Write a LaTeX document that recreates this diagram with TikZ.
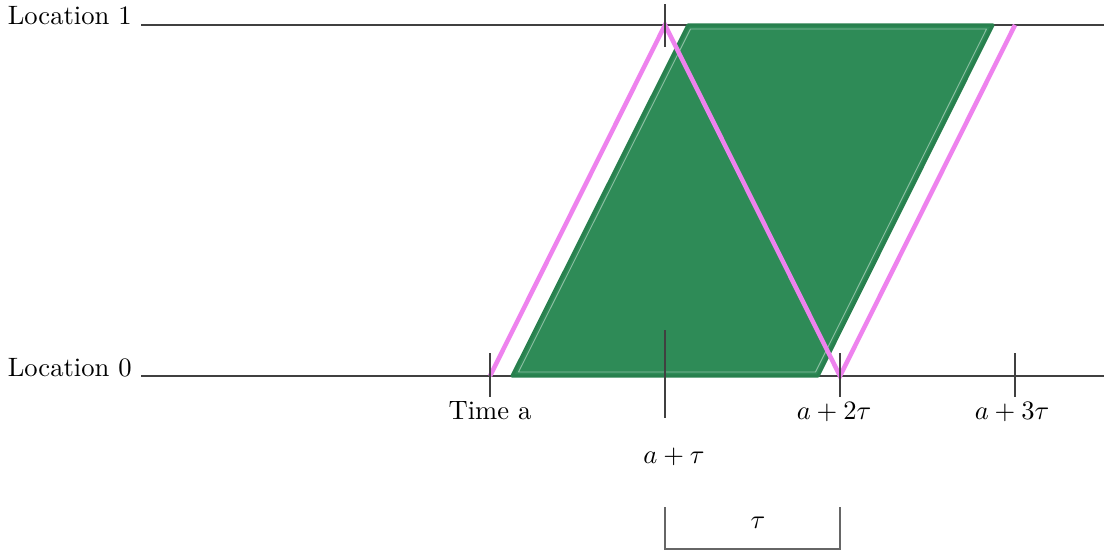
\documentclass[tikz,border=0pt]{standalone}
\definecolor{sg}{RGB}{46,139,87}
\definecolor{sgdark}{RGB}{40,128,78}
\definecolor{vio}{RGB}{238,130,238}
\begin{document}
\begin{tikzpicture}[x=0.376pt,y=-0.376pt,
  axisline/.style={line width=0.4pt, black!75},
  tick/.style={line width=0.4pt, black!75},
  zig/.style={vio, line width=1.7pt},
  region/.style={fill=sg, draw=sgdark, line width=1.2pt, line join=round},
  inner/.style={draw=white, opacity=0.45, line width=0.35pt},
  lbl/.style={anchor=base}]
\useasboundingbox (0,0) rectangle (1104,554);
% locations
\node[anchor=base east] (loc1) at (141,25) {Location 1};
\node[anchor=base east] (loc0) at (141,376) {Location 0};
\coordinate (end1) at (1104,25);
\coordinate (end0) at (1104,376);
\draw[axisline] (loc1.base east) -- (end1);
\draw[axisline] (loc0.base east) -- (end0);
% green region
\coordinate (g1) at (512,376);
\coordinate (g2) at (688,25);
\coordinate (g3) at (993,25);
\coordinate (g4) at (818,376);
\path[region] (g1) -- (g2) -- (g3) -- (g4) -- cycle;
\coordinate (h1) at (518.5,372);
\coordinate (h2) at (690.5,29);
\coordinate (h3) at (986.5,29);
\coordinate (h4) at (815.5,372);
\draw[inner] (h1) -- (h2) -- (h3) -- (h4) -- cycle;
% pink zigzag
\coordinate (p0) at (490,376);
\coordinate (p1) at (665,25);
\coordinate (p2) at (840,376);
\coordinate (p3) at (1015,25);
\draw[zig] (p0) -- (p1) -- (p2) -- (p3);
% ticks
\coordinate (t1a) at (665,4);   \coordinate (t1b) at (665,47);
\coordinate (t0a) at (490,353); \coordinate (t0b) at (490,397);
\coordinate (t2a) at (665,330); \coordinate (t2b) at (665,418);
\coordinate (t3a) at (840,353); \coordinate (t3b) at (840,397);
\coordinate (t4a) at (1015,353);\coordinate (t4b) at (1015,397);
\draw[tick] (t1a) -- (t1b);
\draw[tick] (t0a) -- (t0b);
\draw[tick] (t2a) -- (t2b);
\draw[tick] (t3a) -- (t3b);
\draw[tick] (t4a) -- (t4b);
% labels
\node[lbl] (ta) at (490,419) {Time a};
\node[lbl] (tb) at (674,463) {$a+\tau$};
\node[lbl] (tc) at (834,419) {$a+2\tau$};
\node[lbl] (td) at (1012,419) {$a+3\tau$};
% tau bracket
\coordinate (b1) at (665,507);
\coordinate (b2) at (665,549);
\coordinate (b3) at (840,549);
\coordinate (b4) at (840,507);
\draw[line width=0.4pt, black!60] (b1) -- (b2) -- (b3) -- (b4);
\node[lbl] (tau) at (758,528) {$\tau$};
\end{tikzpicture}
\end{document}
